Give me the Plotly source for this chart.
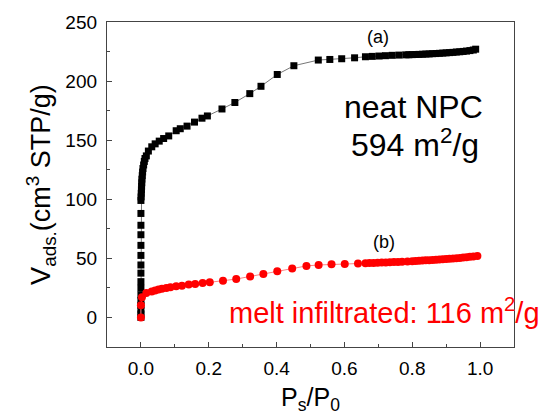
import plotly.graph_objects as go

# Series (a): neat NPC
a_x = [0.0, 0.0, 0.0, 0.0, 0.0, 0.0, 0.0, 0.0, 0.0, 0.0, 0.0, 0.0, 0.0, 0.0, 0.0, 0.0,
       0.0005, 0.001, 0.0015, 0.002, 0.0025, 0.003, 0.004, 0.005, 0.006, 0.008, 0.010, 0.012,
       0.016, 0.022, 0.032, 0.042, 0.054, 0.067, 0.082, 0.104, 0.116, 0.136, 0.158, 0.180,
       0.196, 0.239, 0.277, 0.321, 0.354, 0.402, 0.451, 0.523, 0.557, 0.592, 0.630, 0.662,
       0.682, 0.702, 0.721, 0.741, 0.761, 0.781, 0.79, 0.80, 0.81, 0.82, 0.83, 0.84, 0.85,
       0.86, 0.87, 0.88, 0.89, 0.90, 0.91, 0.92, 0.93, 0.94, 0.95, 0.96, 0.97, 0.98, 0.987]
a_y = [0, 3, 6.1, 10.3, 14.4, 19, 24.7, 30.3, 37.5, 44.4, 52.5, 61, 70, 78, 88, 99,
       102, 105, 108, 111, 114, 117, 120, 123, 126, 129, 132, 134.5,
       136.7, 140.8, 144.4, 146.9, 149.2, 151.4, 153.6, 158, 159.7, 161.9, 165.3, 168.6,
       170.5, 176.4, 181.9, 189.4, 195.6, 205.6, 213, 217.8, 218.3, 218.9, 219.7, 220.6,
       220.9, 221.2, 221.5, 221.8, 222.0, 222.2, 222.3, 222.4, 222.5, 222.6, 222.7, 222.9, 223.0,
       223.2, 223.3, 223.5, 223.7, 223.9, 224.1, 224.3, 224.6, 224.8, 225.1, 225.4, 225.8, 226.3, 227]

# Series (b): melt infiltrated
b_x = [0.0, 0.0, 0.003, 0.016, 0.032, 0.042, 0.052, 0.062, 0.075, 0.087, 0.104, 0.121,
       0.141, 0.160, 0.182, 0.203, 0.242, 0.281, 0.322, 0.361, 0.402, 0.446, 0.488, 0.524,
       0.562, 0.601, 0.640, 0.662, 0.674, 0.686, 0.698, 0.710, 0.722, 0.734, 0.746, 0.758,
       0.770, 0.786, 0.80, 0.81, 0.82, 0.83, 0.84, 0.85, 0.86, 0.87, 0.88, 0.89, 0.90,
       0.91, 0.92, 0.93, 0.94, 0.95, 0.96, 0.97, 0.98, 0.992]
b_y = [0, 10.3, 17.2, 20.6, 21.9, 22.8, 23.6, 24.2, 25, 25.6, 26.4, 26.9,
       27.8, 28.3, 29.2, 29.7, 31.1, 32.5, 34.7, 36.7, 39, 41.4, 43.6, 44.4,
       45, 45.3, 45.6, 45.8, 46.0, 46.1, 46.3, 46.4, 46.6, 46.7, 46.9, 47.0,
       47.1, 47.3, 47.5, 47.7, 47.9, 48.1, 48.3, 48.5, 48.7, 48.9, 49.1, 49.3, 49.5,
       49.7, 49.9, 50.1, 50.4, 50.7, 51.0, 51.3, 51.6, 52]

x_ticks = [0.0, 0.2, 0.4, 0.6, 0.8, 1.0]
x_tick_text = ["0.0", "0.2", "0.4", "0.6", "0.8", "1.0"]
y_ticks = [0, 50, 100, 150, 200, 250]

FONT = "Liberation Sans, Arial, sans-serif"

fig = go.Figure()
fig.add_trace(go.Scatter(
    x=a_x, y=a_y, mode="lines+markers",
    line=dict(color="#777777", width=1),
    marker=dict(symbol="square", size=7, color="black"),
    showlegend=False, cliponaxis=False))
fig.add_trace(go.Scatter(
    x=b_x, y=b_y, mode="lines+markers",
    line=dict(color="#ff8080", width=1),
    marker=dict(symbol="circle", size=8, color="#ff0000"),
    showlegend=False, cliponaxis=False))

axis_common = dict(
    showline=True, linecolor="#444444", linewidth=1.3, mirror=True,
    ticks="inside", ticklen=5, tickcolor="#444444", tickwidth=1,
    showgrid=False, zeroline=False,
    tickfont=dict(family=FONT, size=19, color="black"),
)

fig.update_xaxes(
    range=[-0.1, 1.1], tickvals=x_ticks, ticktext=x_tick_text,
    minor=dict(ticks="inside", ticklen=3, dtick=0.1, tick0=0, tickcolor="#444444"),
    title=dict(text="P<sub>s</sub>/P<sub>0</sub>", font=dict(family=FONT, size=25, color="black"), standoff=10),
    ticklabelstandoff=4,
    **axis_common)
fig.update_yaxes(
    range=[-25, 250], tickvals=y_ticks,
    minor=dict(ticks="inside", ticklen=3, dtick=25, tick0=0, tickcolor="#444444"),
    title=dict(text="V<sub>ads.</sub>(cm<sup>3</sup> STP/g)", font=dict(family=FONT, size=27, color="black"), standoff=6),
    ticklabelstandoff=5,
    **axis_common)

fig.add_annotation(x=0.698, y=237, text="(a)", showarrow=False,
                   font=dict(family=FONT, size=18, color="black"))
fig.add_annotation(x=0.718, y=64, text="(b)", showarrow=False,
                   font=dict(family=FONT, size=18, color="black"))
fig.add_annotation(x=0.804, y=178, text="neat NPC", showarrow=False,
                   font=dict(family=FONT, size=32, color="black"))
fig.add_annotation(x=0.809, y=148, text="594 m<sup>2</sup>/g", showarrow=False,
                   font=dict(family=FONT, size=32, color="black"))
fig.add_annotation(x=0.255, y=5.8, text="melt infiltrated: 116 m<sup>2</sup>/g", showarrow=False,
                   xanchor="left", font=dict(family=FONT, size=29, color="#ff0000"))

fig.update_layout(
    width=543, height=418,
    margin=dict(l=107, r=29, t=19, b=69),
    paper_bgcolor="white", plot_bgcolor="white",
)

fig.write_html("out.html")
